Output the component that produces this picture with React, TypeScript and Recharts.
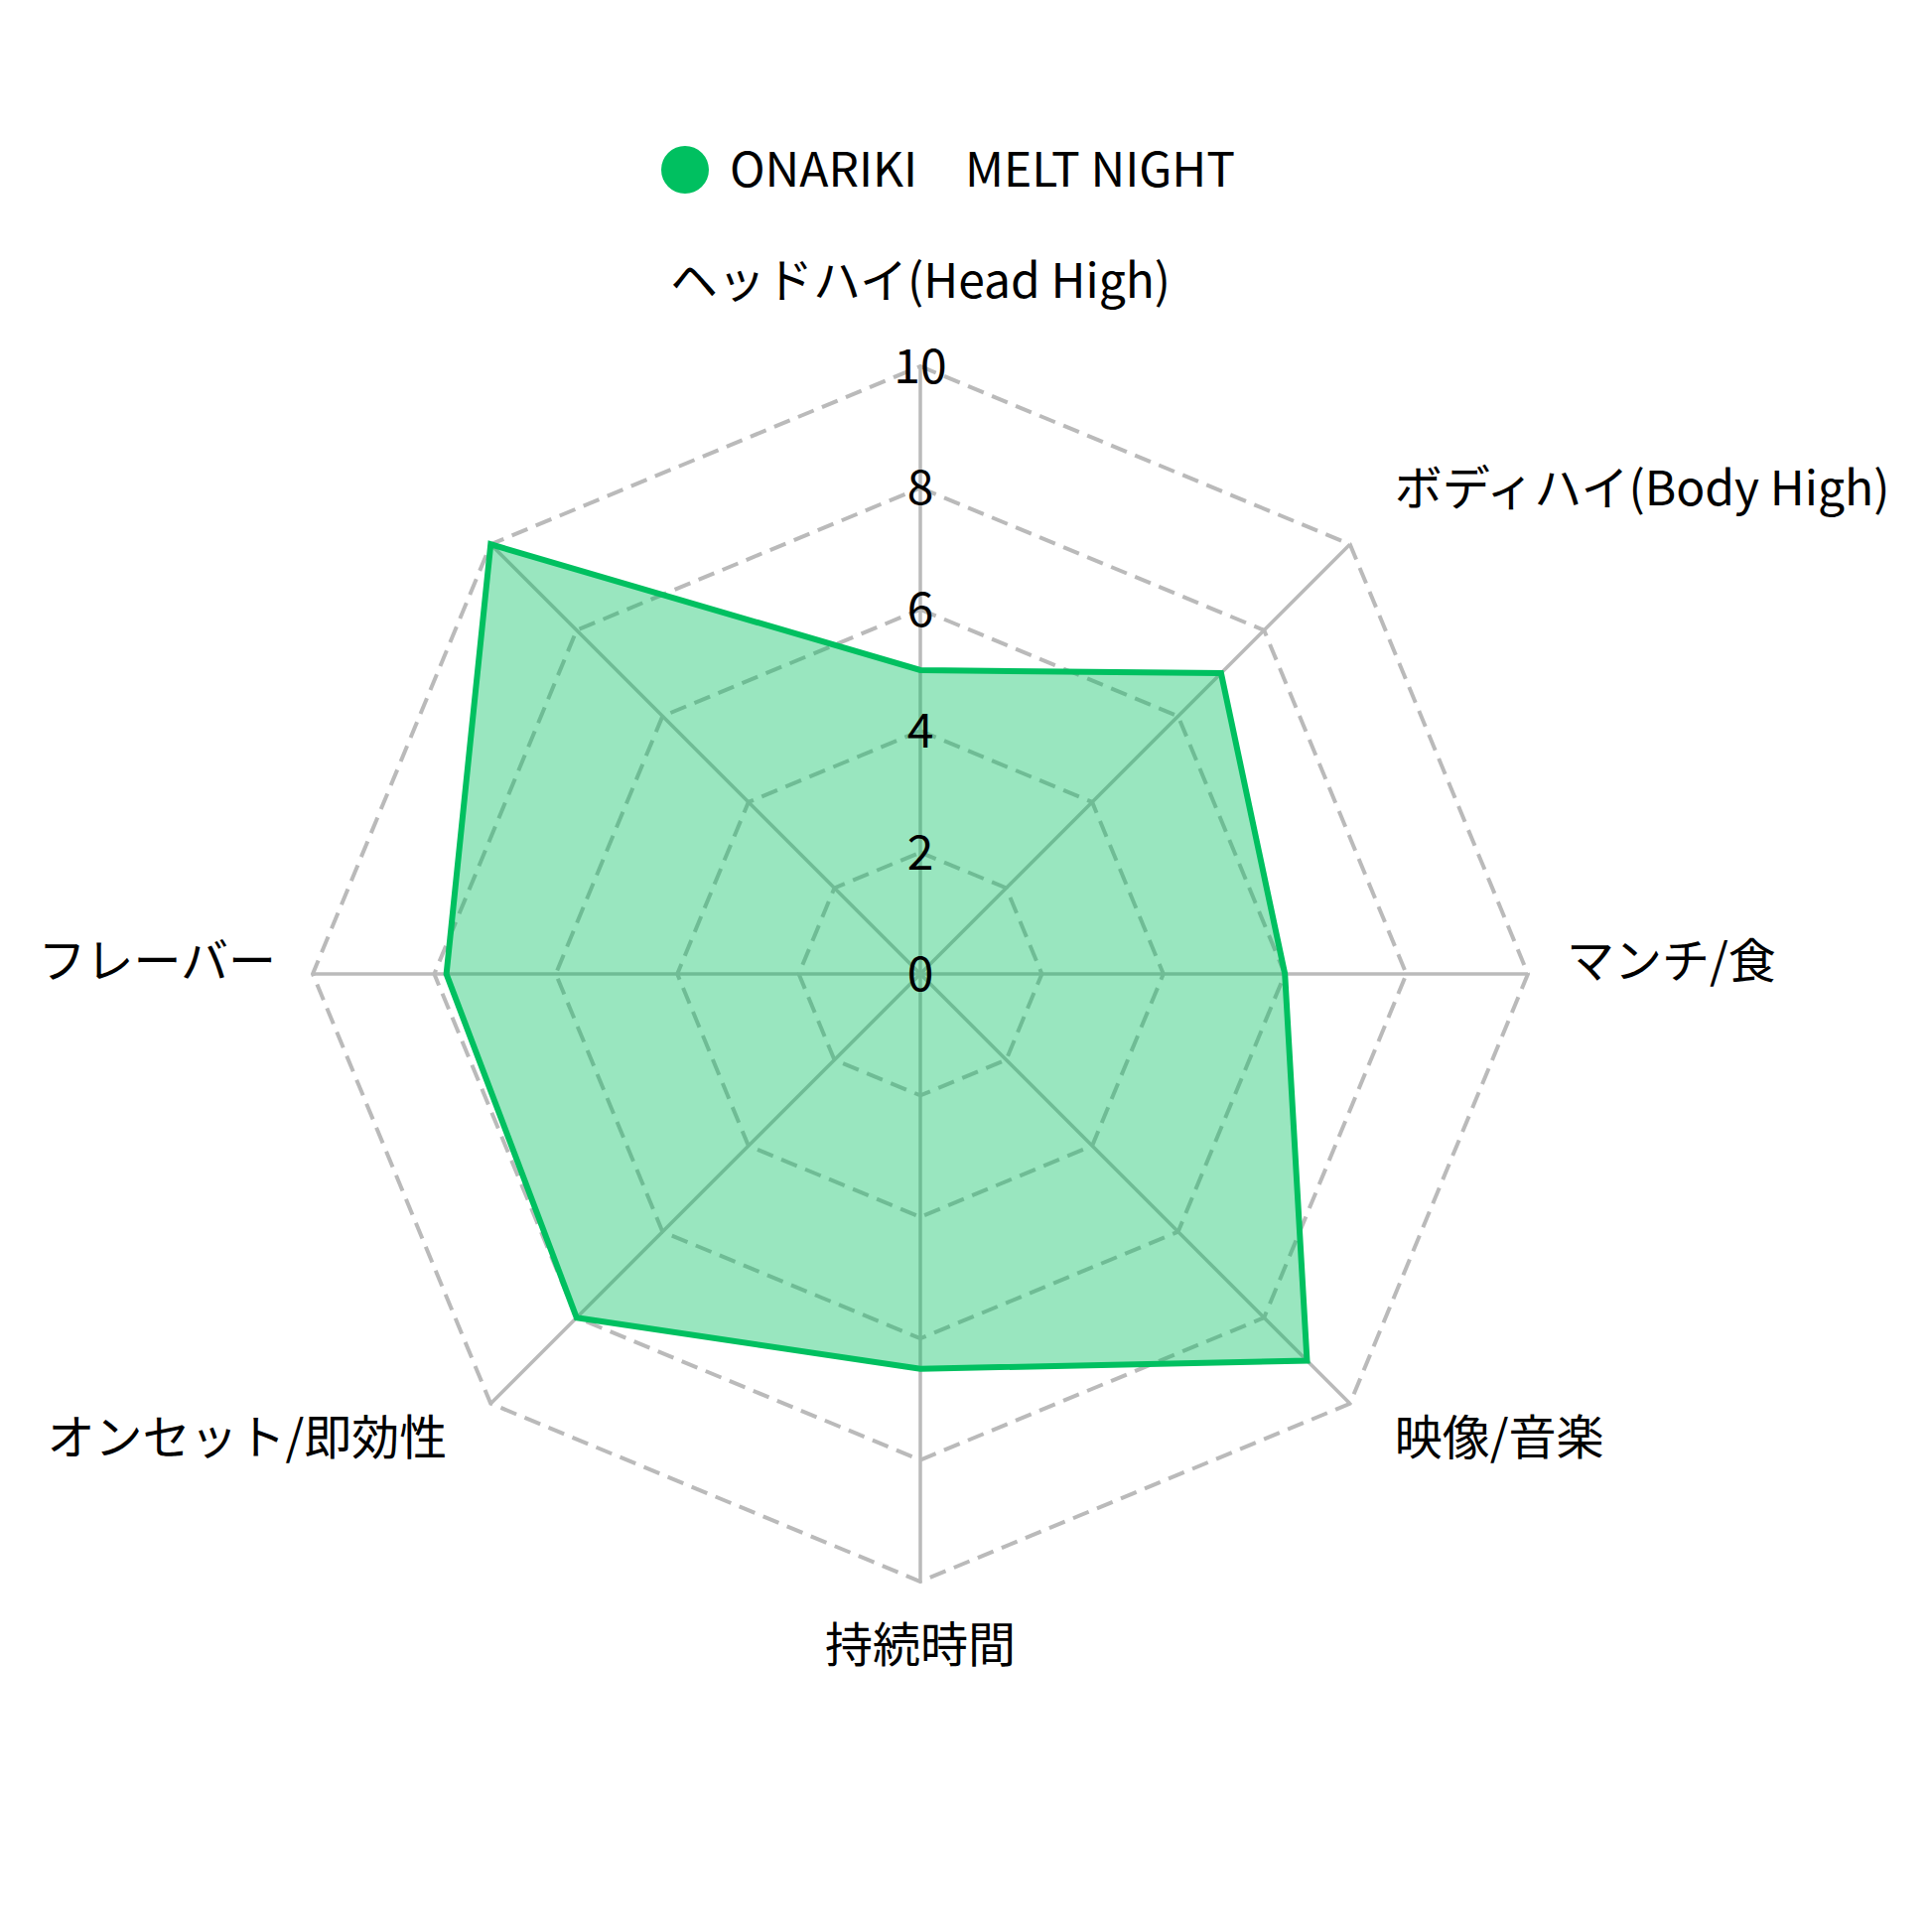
import React from 'react';
import { RadarChart, Radar, PolarGrid, PolarAngleAxis, PolarRadiusAxis, Legend } from 'recharts';

const categories = [
  'ヘッドハイ(Head High)',
  'ボディハイ(Body High)',
  'マンチ/食',
  '映像/音楽',
  '持続時間',
  'オンセット/即効性',
  'フレーバー',
  '',
];
const seriesName = 'ONARIKI\u3000MELT NIGHT';
const seriesValues = [5, 7, 6, 9, 6.5, 8, 7.8, 10];
const radiusTicks = [0, 2, 4, 6, 8, 10];

const data = categories.map((c, i) => ({ category: c, value: seriesValues[i] }));

const GREEN = '#00c060';
const GRID = '#bababa';
const FONT = '"Noto Sans CJK JP", "Noto Sans", sans-serif';
const FONT_SIZE = 48;

const AngleTick = (props: any) => {
  const { x, y, payload } = props;
  if (!payload || payload.value === '') return null;
  const a = (payload.coordinate * Math.PI) / 180;
  const cos = Math.cos(a);
  const sin = Math.sin(a);
  const vx = x - 8 * cos;
  const vy = y + 8 * sin;
  let anchor: 'start' | 'middle' | 'end' = 'middle';
  let dx = 0;
  if (cos > 0.1) {
    anchor = 'start';
    dx = cos > 0.9 ? 39 : 45;
  } else if (cos < -0.1) {
    anchor = 'end';
    dx = cos < -0.9 ? -37 : -44;
  }
  let dy = 0;
  if (sin > 0.9) dy = -90;
  else if (sin > 0.1) dy = -60;
  else if (sin > -0.1) dy = -17;
  else if (sin > -0.9) dy = 30;
  else dy = 60;
  return (
    <text
      x={vx + dx}
      y={vy + dy}
      textAnchor={anchor}
      dominantBaseline="central"
      fontSize={FONT_SIZE}
      fontFamily={FONT}
      fill="#000"
    >
      {payload.value}
    </text>
  );
};

const RadiusTick = (props: any) => {
  const { x, y, payload } = props;
  return (
    <text
      x={x}
      y={y - 4}
      textAnchor="middle"
      dominantBaseline="central"
      fontSize={FONT_SIZE}
      fontFamily={FONT}
      fill="#000"
    >
      {payload.value}
    </text>
  );
};

const LegendContent = (props: any) => {
  const item = (props.payload && props.payload[0]) || { value: seriesName, color: GREEN };
  return (
    <div style={{ display: 'flex', alignItems: 'center', height: 48, paddingLeft: 658 }}>
      <svg width={48} height={48} style={{ display: 'block' }}>
        <circle cx={24} cy={24} r={24} fill={GREEN} />
      </svg>
      <span
        style={{
          marginLeft: 21,
          position: 'relative',
          top: -4,
          fontSize: FONT_SIZE,
          lineHeight: '48px',
          color: '#000',
          fontFamily: FONT,
          whiteSpace: 'pre',
        }}
      >
        {item.value}
      </span>
    </div>
  );
};

export default function App() {
  return (
    <div style={{ width: 1930, height: 1930, fontFamily: FONT, background: '#fff' }}>
      <RadarChart
        width={1930}
        height={1930}
        data={data}
        cx={919}
        cy={973}
        outerRadius={612}
        margin={{ top: 0, right: 0, bottom: 0, left: 0 }}
      >
        <PolarGrid
          gridType="polygon"
          radialLines={false}
          stroke={GRID}
          strokeWidth={4}
          strokeDasharray="17 9"
        />
        <PolarGrid gridType="polygon" polarRadius={[]} stroke={GRID} strokeWidth={3.5} />
        <PolarAngleAxis
          dataKey="category"
          tick={<AngleTick />}
          tickLine={false}
          axisLine={false}
          tickSize={8}
        />
        <Radar
          name={seriesName}
          dataKey="value"
          stroke={GREEN}
          strokeWidth={6}
          fill={GREEN}
          fillOpacity={0.4}
          dot={false}
          isAnimationActive={false}
        />
        <PolarRadiusAxis
          angle={90}
          domain={[0, 10]}
          ticks={radiusTicks as any}
          tickCount={6}
          axisLine={false}
          tickLine={false}
          tick={<RadiusTick />}
        />
        <Legend
          verticalAlign="top"
          align="left"
          wrapperStyle={{ top: 139, left: 0, width: 1930 }}
          content={<LegendContent />}
        />
      </RadarChart>
    </div>
  );
}
